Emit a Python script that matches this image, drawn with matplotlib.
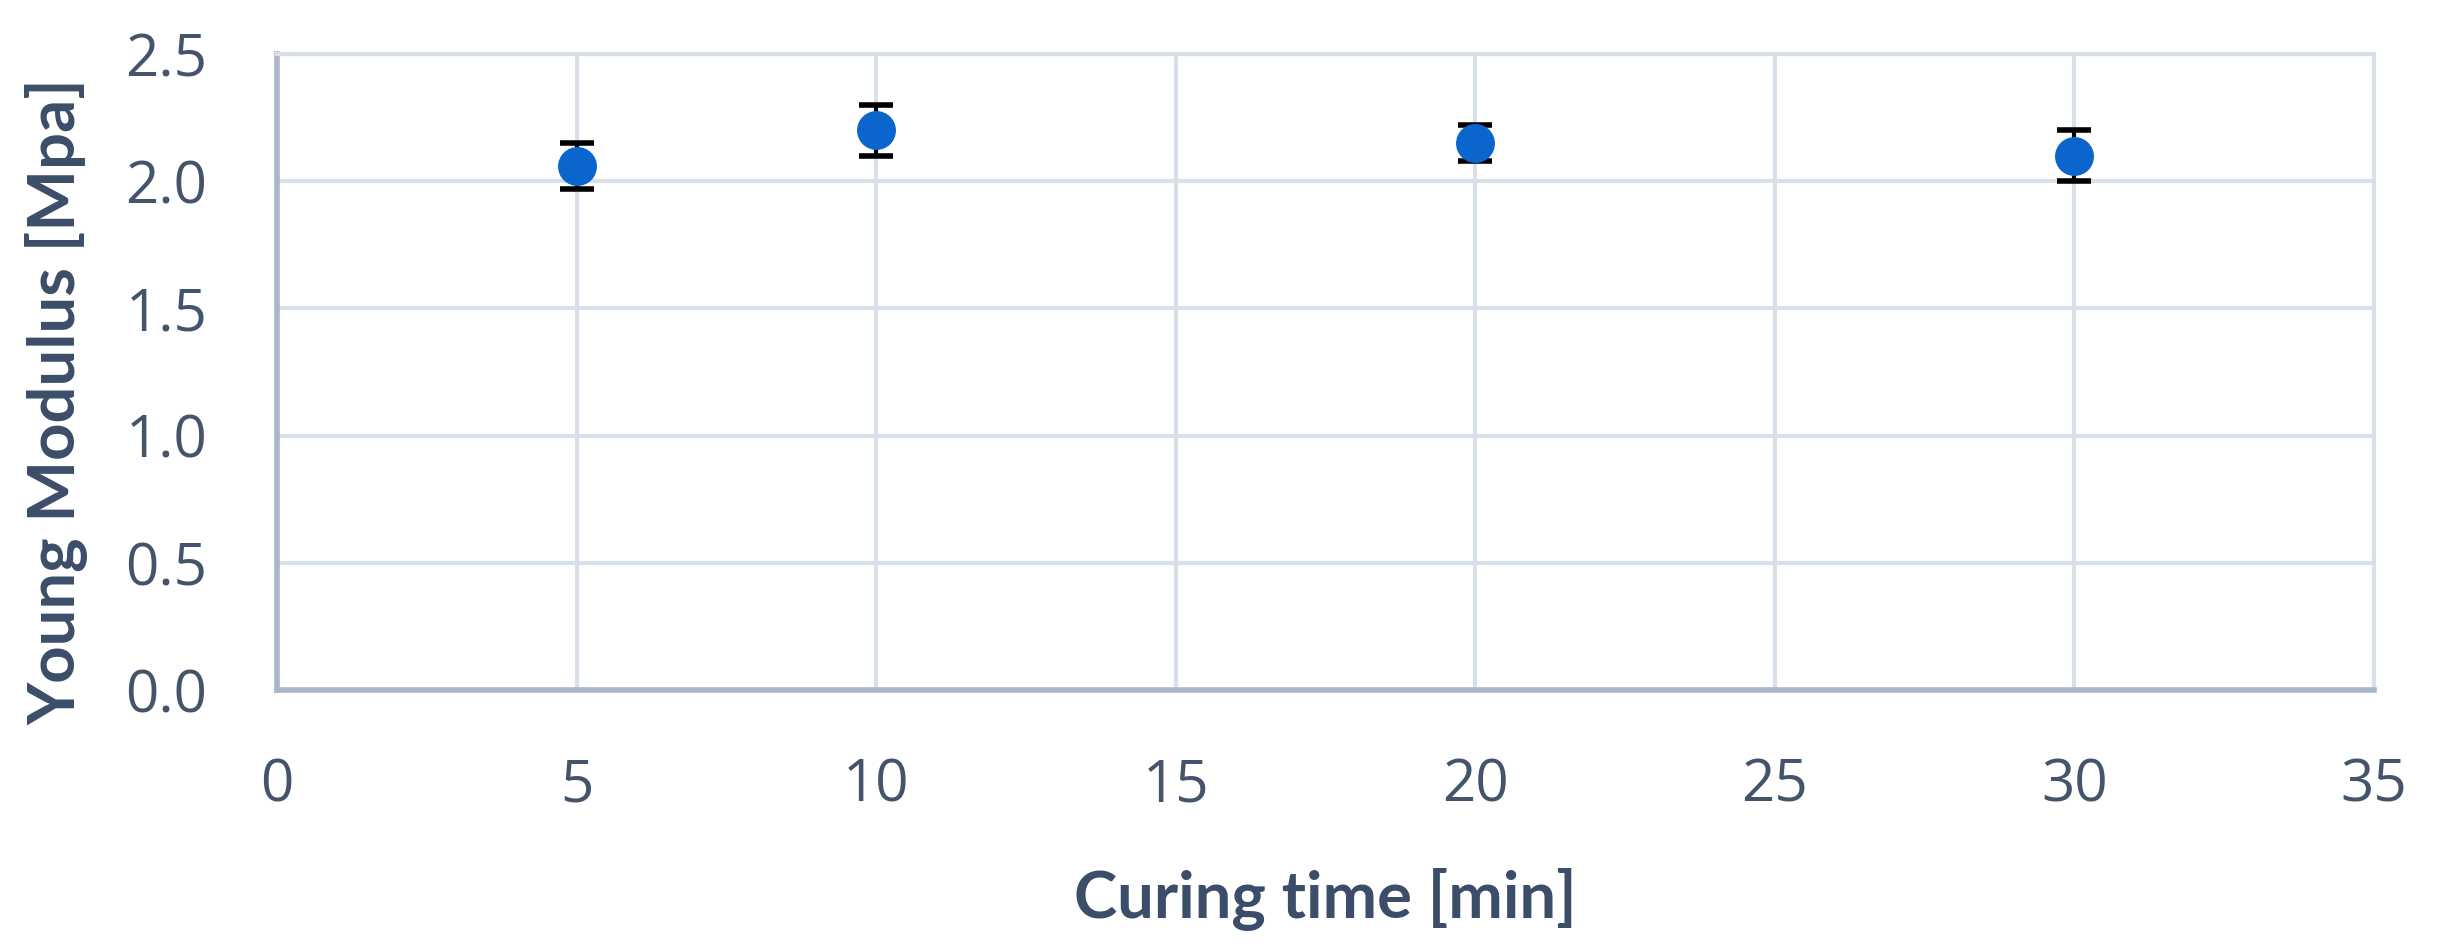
import matplotlib
matplotlib.use("Agg")
import matplotlib.pyplot as plt

# curing time [min] vs Young modulus [MPa]
curing_time = [5, 10, 20, 30]
young_modulus = [2.06, 2.20, 2.15, 2.10]
young_err = [0.09, 0.10, 0.07, 0.10]

x_ticks = [0, 5, 10, 15, 20, 25, 30, 35]
y_ticks = [0.0, 0.5, 1.0, 1.5, 2.0, 2.5]

text_col = "#44546a"
label_col = "#3b4d68"
grid_col = "#d9e0e9"
axis_col = "#a8b7ca"

fig = plt.figure(figsize=(24.41, 9.49), dpi=100)
ax = fig.add_axes([0.1135, 0.2729, 0.859, 0.6702])

ax.errorbar(curing_time, young_modulus, yerr=young_err, fmt="o",
            color="#0a66cc", markersize=27, ecolor="black", elinewidth=3,
            capsize=12, capthick=4, zorder=3)

ax.set_xlim(0, 35)
ax.set_ylim(0, 2.5)
ax.set_xticks(x_ticks)
ax.set_yticks(y_ticks)
ax.set_yticklabels([f"{v:.1f}" for v in y_ticks])

ax.grid(True, color=grid_col, linewidth=3)
ax.set_axisbelow(True)
for side in ["top", "right"]:
    ax.spines[side].set_color(grid_col)
    ax.spines[side].set_linewidth(3)
for side in ["left", "bottom"]:
    ax.spines[side].set_color(axis_col)
    ax.spines[side].set_linewidth(4)

ax.tick_params(length=0, labelsize=42, labelcolor=text_col)
ax.tick_params(axis="x", pad=48)
ax.tick_params(axis="y", pad=50)
for lab in ax.get_xticklabels() + ax.get_yticklabels():
    lab.set_family(["Open Sans", "DejaVu Sans"])

ax.set_xlabel("Curing time [min]", fontsize=47, fontweight="bold", color=label_col,
              family=["Lato", "DejaVu Sans"])
ax.xaxis.set_label_coords(0.5, -0.28)
ax.set_ylabel("Young Modulus [Mpa]", fontsize=47, fontweight="bold", color=label_col,
              family=["Lato", "DejaVu Sans"])
ax.yaxis.set_label_coords(-0.09, 0.453)

fig.savefig("out.png", dpi=100)
